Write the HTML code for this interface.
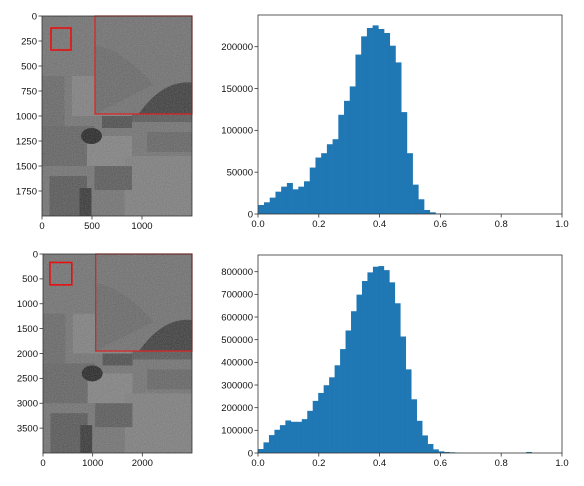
<!DOCTYPE html>
<html><head><meta charset="utf-8"><style>
html,body{margin:0;padding:0;background:#fff;}
svg{display:block;font-family:"Liberation Sans","DejaVu Sans",sans-serif;}
</style></head><body>
<svg id="fig" width="584" height="486" viewBox="0 0 584 486">
<defs>
<filter id="noise" x="0" y="0" width="100%" height="100%">
<feTurbulence type="fractalNoise" baseFrequency="0.9" numOctaves="2" seed="3"/>
<feColorMatrix type="saturate" values="0"/>
<feComponentTransfer><feFuncA type="linear" slope="0.35"/></feComponentTransfer>
</filter>
</defs>
</svg>
<script>
// ---- data ----
const topBinStart = 0.001;
const topBinWidth = 0.0188;
const topCounts = [10800,14000,19600,26700,32700,37100,29500,32700,39100,55500,67500,72700,83400,89400,118600,135300,152500,190600,212400,222400,225500,221200,216400,201200,181200,121800,72700,35100,17600,4800,2000,600,300,100];
const botBinStart = 0.0;
const botBinWidth = 0.018;
const botCounts = [17600,46900,79000,102500,123000,143600,137700,137700,149400,186000,230000,265000,299000,334000,387000,458500,540600,625600,698800,758900,797000,822000,825000,807000,753000,660700,514000,369000,237000,142000,77600,39600,16000,7300,4400,3000,800,300,200,100,100,100,100,100,100,100,100,100,100,4400];
const xTicks = [0,0.2,0.4,0.6,0.8,1.0];
const xTickLabels = ["0.0","0.2","0.4","0.6","0.8","1.0"];
const topYTicks = [0,50000,100000,150000,200000];
const botYTicks = [0,100000,200000,300000,400000,500000,600000,700000,800000];
const img1YTicks = [0,250,500,750,1000,1250,1500,1750];
const img1XTicks = [0,500,1000];
const img2YTicks = [0,500,1000,1500,2000,2500,3000,3500];
const img2XTicks = [0,1000,2000];

const NS = "http://www.w3.org/2000/svg";
const svg = document.getElementById('fig');
function mk(tag, attrs, parent){
  const e = document.createElementNS(NS, tag);
  for (const k in attrs) e.setAttribute(k, attrs[k]);
  (parent||svg).appendChild(e);
  return e;
}
function txt(x,y,s,anchor,parent){
  const t = mk('text',{x:x,y:y,'font-size':'9.5','fill':'#111','text-anchor':anchor},parent);
  t.textContent = s;
  return t;
}

function histogram(name, L, R, T, B, yMax, counts, start, width, yTicks){
  const g = mk('g',{});
  
  
  const xs = v => L + (R-L)*v;
  const ys = v => B - (B-T)*v/yMax;
  counts.forEach((c,i)=>{
    const x0 = xs(start + i*width), x1 = xs(start + (i+1)*width);
    const r = mk('rect',{x:x0,y:ys(c),width:x1-x0+0.3,height:B-ys(c),fill:'#1f77b4'},g);
    
    
  });
  const fr = mk('rect',{x:L,y:T,width:R-L,height:B-T,fill:'none',stroke:'#333','stroke-width':0.8},g);
  
  
  xTicks.forEach((v,i)=>{
    mk('line',{x1:xs(v),x2:xs(v),y1:B,y2:B+3.5,stroke:'#333','stroke-width':0.8},g);
    const t = txt(xs(v),B+13,xTickLabels[i],'middle',g);
    
    
  });
  yTicks.forEach(v=>{
    mk('line',{x1:L-3.5,x2:L,y1:ys(v),y2:ys(v),stroke:'#333','stroke-width':0.8},g);
    const t = txt(L-5,ys(v)+3.3,String(v),'end',g);
    
    
  });
}

function imagePanel(name, L, R, T, B, w, h, xT, yT, inset, box){
  const g = mk('g',{});
  
  
  const xs = v => L + (R-L)*v/w;
  const ys = v => T + (B-T)*v/h;
  mk('rect',{x:L,y:T,width:R-L,height:B-T,fill:'#707070'},g);
  const patches = [
    [0.0,0.55,0.35,0.2,'#606060'],[0.3,0.6,0.3,0.15,'#808080'],[0.55,0.7,0.45,0.3,'#7c7c7c'],
    [0.05,0.8,0.25,0.2,'#545454'],[0.35,0.75,0.25,0.12,'#575757'],[0.2,0.3,0.4,0.2,'#7e7e7e'],
    [0.0,0.3,0.15,0.25,'#656565'],[0.7,0.58,0.3,0.1,'#626262'],[0.6,0.45,0.4,0.08,'#555'],
    [0.4,0.5,0.2,0.06,'#4a4a4a']
  ];
  patches.forEach(p=>{
    mk('rect',{x:L+(R-L)*p[0],y:T+(B-T)*p[1],width:(R-L)*p[2],height:(B-T)*p[3],fill:p[4]},g);
  });
  mk('ellipse',{cx:L+(R-L)*0.33,cy:T+(B-T)*0.6,rx:(R-L)*0.07,ry:(B-T)*0.04,fill:'#222'},g);
  mk('rect',{x:L+(R-L)*0.25,y:T+(B-T)*0.86,width:(R-L)*0.08,height:(B-T)*0.14,fill:'#333'},g);
  mk('rect',{x:L,y:T,width:R-L,height:B-T,filter:'url(#noise)',fill:'#fff'},g);
  const ix = xs(inset[0]), iy = ys(inset[1]), iw = xs(inset[2])-ix, ih = ys(inset[3])-iy;
  mk('rect',{x:ix,y:iy,width:iw,height:ih,fill:'#6e6e6e'},g);
  mk('path',{d:`M${ix} ${iy+ih*0.3} Q${ix+iw*0.3} ${iy+ih*0.35} ${ix+iw*0.6} ${iy+ih*0.7} L${ix} ${iy+ih} Z`,fill:'#666'},g);
  mk('path',{d:`M${ix+iw*0.45} ${iy+ih} Q${ix+iw*0.7} ${iy+ih*0.65} ${ix+iw} ${iy+ih*0.68} L${ix+iw} ${iy+ih} Z`,fill:'#3a3a3a'},g);
  mk('rect',{x:ix,y:iy,width:iw,height:ih,filter:'url(#noise)',fill:'#fff'},g);
  const ir = mk('rect',{x:ix,y:iy,width:iw,height:ih,fill:'none',stroke:'#e02020','stroke-width':1.2},g);
  
  
  const br = mk('rect',{x:xs(box[0]),y:ys(box[1]),width:xs(box[2])-xs(box[0]),height:ys(box[3])-ys(box[1]),fill:'none',stroke:'#e81010','stroke-width':1.6},g);
  
  
  mk('rect',{x:L,y:T,width:R-L,height:B-T,fill:'none',stroke:'#333','stroke-width':0.8},g);
  xT.forEach(v=>{
    mk('line',{x1:xs(v),x2:xs(v),y1:B,y2:B+3.5,stroke:'#333','stroke-width':0.8},g);
    const t = txt(xs(v),B+13,String(v),'middle',g);
    
    
  });
  yT.forEach(v=>{
    mk('line',{x1:L-3.5,x2:L,y1:ys(v),y2:ys(v),stroke:'#333','stroke-width':0.8},g);
    const t = txt(L-5,ys(v)+3.3,String(v),'end',g);
    
    
  });
}

imagePanel('top-image', 42, 192, 16, 216, 1500, 2000, img1XTicks, img1YTicks, [530,0,1500,980], [90,120,290,340]);
imagePanel('bottom-image', 43, 192, 254, 453, 3000, 4000, img2XTicks, img2YTicks, [1060,0,3000,1950], [140,170,580,620]);
histogram('top-histogram', 258, 562, 15, 214, 200000*199/167.3, topCounts, topBinStart, topBinWidth, topYTicks);
histogram('bottom-histogram', 258, 562, 255, 453, 800000*198/181.3, botCounts, botBinStart, botBinWidth, botYTicks);
</script>
</body></html>
